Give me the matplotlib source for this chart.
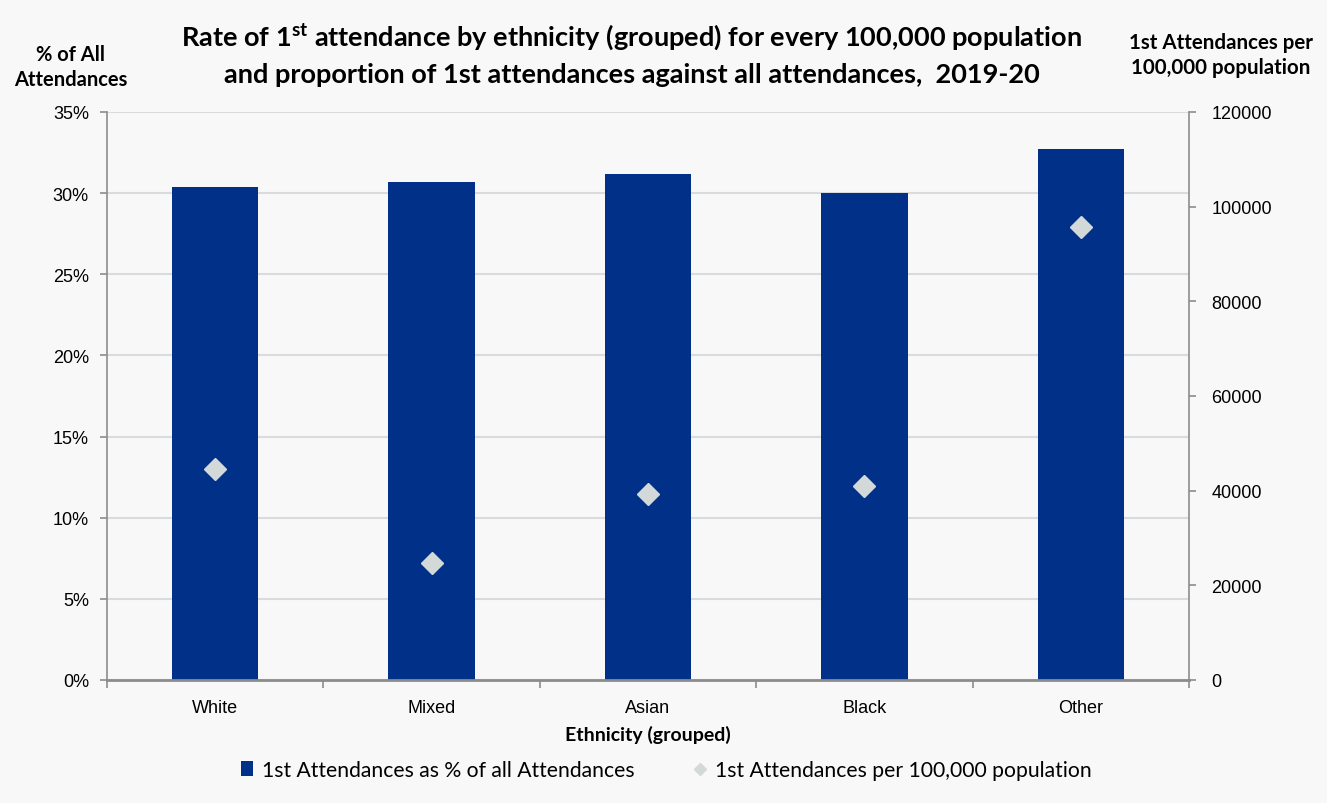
import matplotlib
matplotlib.use("Agg")
import matplotlib.pyplot as plt
from matplotlib.ticker import FuncFormatter, MultipleLocator

# Data
categories = ["White", "Mixed", "Asian", "Black", "Other"]
pct_first = [30.4, 30.7, 31.2, 30.0, 32.7]           # % of all attendances
rate_per_100k = [44500, 24800, 39300, 41000, 95700]   # 1st attendances per 100,000

BAR_COLOR = "#003087"
DIAMOND_COLOR = "#d3d8d8"
BG = "#f8f8f8"
GRID = "#d9dcdf"
SPINE = "#8c8c8c"

plt.rcParams["mathtext.fontset"] = "custom"
plt.rcParams["mathtext.bf"] = "Lato:bold"
plt.rcParams["mathtext.rm"] = "Lato"

fig = plt.figure(figsize=(13.27, 8.04), dpi=100, facecolor=BG)
ax = fig.add_axes([0.0806, 0.153, 0.8154, 0.7065])
ax.set_facecolor(BG)

x = list(range(len(categories)))
bars = ax.bar(x, pct_first, width=0.40, color=BAR_COLOR, zorder=2,
              label="1st Attendances as % of all Attendances")
ax.set_xlim(-0.5, len(categories) - 0.5)
ax.set_ylim(0, 35)
ax.yaxis.set_major_locator(MultipleLocator(5))
ax.yaxis.set_major_formatter(FuncFormatter(lambda v, p: f"{v:.0f}%"))
ax.grid(axis="y", color=GRID, linewidth=1.5, zorder=0)
ax.set_axisbelow(True)

ax.set_xticks(x)
ax.set_xticklabels(categories, fontsize=13, family="Liberation Sans")
ax.set_xticks([i - 0.5 for i in range(len(categories) + 1)], minor=True)
ax.tick_params(axis="x", which="major", length=0, pad=14)
ax.tick_params(axis="x", which="minor", length=6, color=SPINE, width=1.2)
ax.tick_params(axis="y", labelsize=13, length=5, color=SPINE, width=1.2, pad=8)
for lab in ax.get_yticklabels():
    lab.set_family("Liberation Sans")

for s in ["top", "right"]:
    ax.spines[s].set_visible(False)
ax.spines["left"].set_color(SPINE)
ax.spines["bottom"].set_color(SPINE)
ax.spines["left"].set_linewidth(1.2)
ax.spines["bottom"].set_linewidth(2)

ax2 = ax.twinx()
ax2.set_ylim(0, 120000)
ax2.yaxis.set_major_locator(MultipleLocator(20000))
ax2.yaxis.set_major_formatter(FuncFormatter(lambda v, p: f"{v:.0f}"))
pts, = ax2.plot(x, rate_per_100k, linestyle="none", marker="D", markersize=11,
                color=DIAMOND_COLOR, zorder=3,
                label="1st Attendances per 100,000 population")
ax2.tick_params(axis="y", labelsize=13, length=5, color=SPINE, width=1.2, pad=11)
for lab in ax2.get_yticklabels():
    lab.set_family("Liberation Sans")
for s in ["top", "left", "bottom"]:
    ax2.spines[s].set_visible(False)
ax2.spines["right"].set_color(SPINE)
ax2.spines["right"].set_linewidth(1.2)

ax.set_xlabel("Ethnicity (grouped)", fontsize=14, fontweight="bold",
              family="Lato", labelpad=6)

fig.text(0.476, 0.953,
         r"Rate of 1$^{\mathbf{st}}$ attendance by ethnicity (grouped) for every 100,000 population",
         ha="center", va="center", fontsize=19.5, fontweight="bold", family="Lato")
fig.text(0.476, 0.907,
         "and proportion of 1st attendances against all attendances,  2019-20",
         ha="center", va="center", fontsize=19.5, fontweight="bold", family="Lato")

fig.text(0.0535, 0.916, "% of All\nAttendances", ha="center", va="center",
         fontsize=14.5, fontweight="bold", family="Lato", linespacing=1.35)
fig.text(0.920, 0.931, "1st Attendances per\n100,000 population", ha="center",
         va="center", fontsize=14.8, fontweight="bold", family="Lato", linespacing=1.35)

leg = fig.legend(handles=[bars, pts], loc="center", bbox_to_anchor=(0.502, 0.041),
                 ncol=2, frameon=False, columnspacing=2.8, markerscale=0.6,
                 handlelength=0.6, handletextpad=0.4,
                 prop={"family": "Lato", "size": 15.2})

fig.savefig("out.png", dpi=100, facecolor=BG)
